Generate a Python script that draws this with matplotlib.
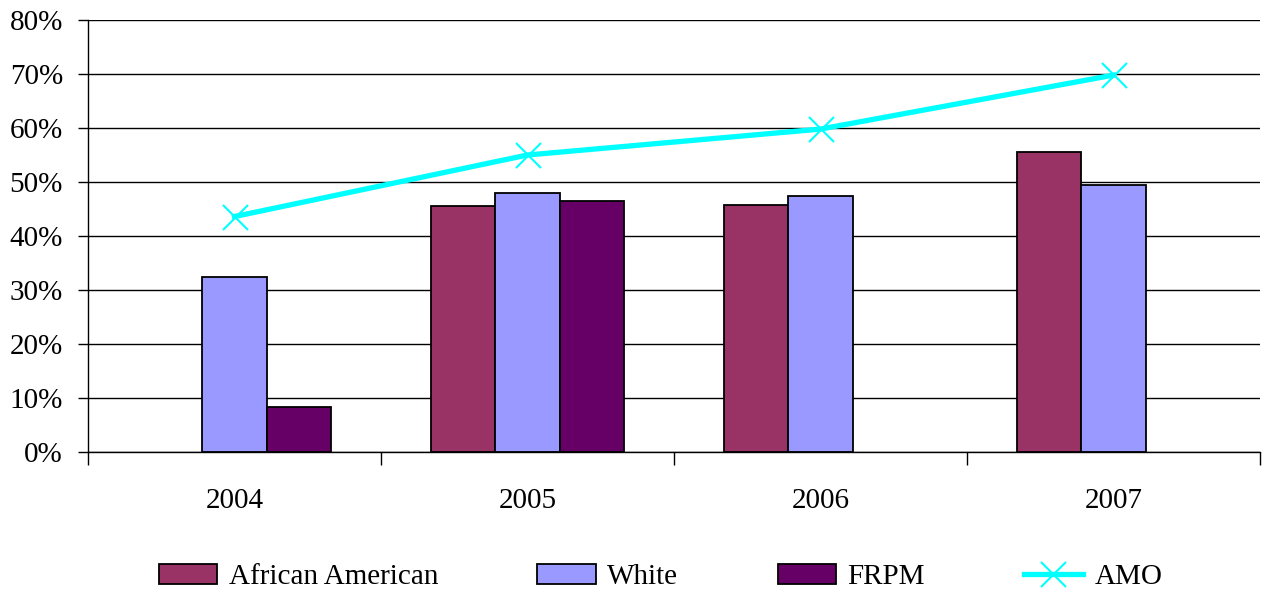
import numpy as np
import matplotlib
matplotlib.use('Agg')
import matplotlib.pyplot as plt

years = ['2004', '2005', '2006', '2007']
african_american = [np.nan, 45.6, 45.7, 55.6]
white = [32.4, 47.9, 47.5, 49.4]
frpm = [8.3, 46.4, np.nan, np.nan]
amo = [43.6, 55.0, 59.8, 69.8]

plt.rcParams['font.family'] = ['Liberation Serif', 'DejaVu Serif']

fig = plt.figure(figsize=(12.63, 5.91), dpi=100)
ax = fig.add_axes([88/1263, 1-452/591, (1260-88)/1263, (452-20)/591])

x = np.arange(len(years))
w = 0.22
b1 = ax.bar(x - w, african_american, w, color='#993366', edgecolor='black', linewidth=1.3, label='African American', zorder=2)
b2 = ax.bar(x, white, w, color='#9999FF', edgecolor='black', linewidth=1.3, label='White', zorder=2)
b3 = ax.bar(x + w, frpm, w, color='#660066', edgecolor='black', linewidth=1.3, label='FRPM', zorder=2)
l1, = ax.plot(x, amo, color='#00FFFF', linewidth=3.8, marker='x', markersize=18,
              markeredgewidth=1.5, label='AMO', zorder=3)

ax.set_xlim(-0.5, 3.5)
ax.set_ylim(0, 80)
ax.set_yticks(range(0, 81, 10))
ax.set_yticklabels([f'{v}%' for v in range(0, 81, 10)], fontsize=21)
ax.yaxis.grid(True, color='black', linewidth=1.0, zorder=0)
ax.set_axisbelow(True)

# category labels at centres, tick marks at boundaries
ax.set_xticks(x)
ax.set_xticklabels(years, fontsize=21)
ax.tick_params(axis='x', which='major', length=0, pad=26)
ax.set_xticks(np.arange(-0.5, 3.6, 1.0), minor=True)
ax.tick_params(axis='x', which='minor', length=9, width=1, direction='out')
ax.tick_params(axis='y', length=7, width=1, pad=11)

for s in ['top', 'right']:
    ax.spines[s].set_visible(False)
ax.spines['left'].set_linewidth(1)
ax.spines['bottom'].set_linewidth(1)

fig.legend([b1, b2, b3, l1], ['African American', 'White', 'FRPM', 'AMO'],
           loc='center', bbox_to_anchor=(0.523, 1-577/591), ncol=4, frameon=False,
           fontsize=21, handlelength=2.0, handletextpad=0.4, columnspacing=3.4)

fig.savefig('out.png', dpi=100)
